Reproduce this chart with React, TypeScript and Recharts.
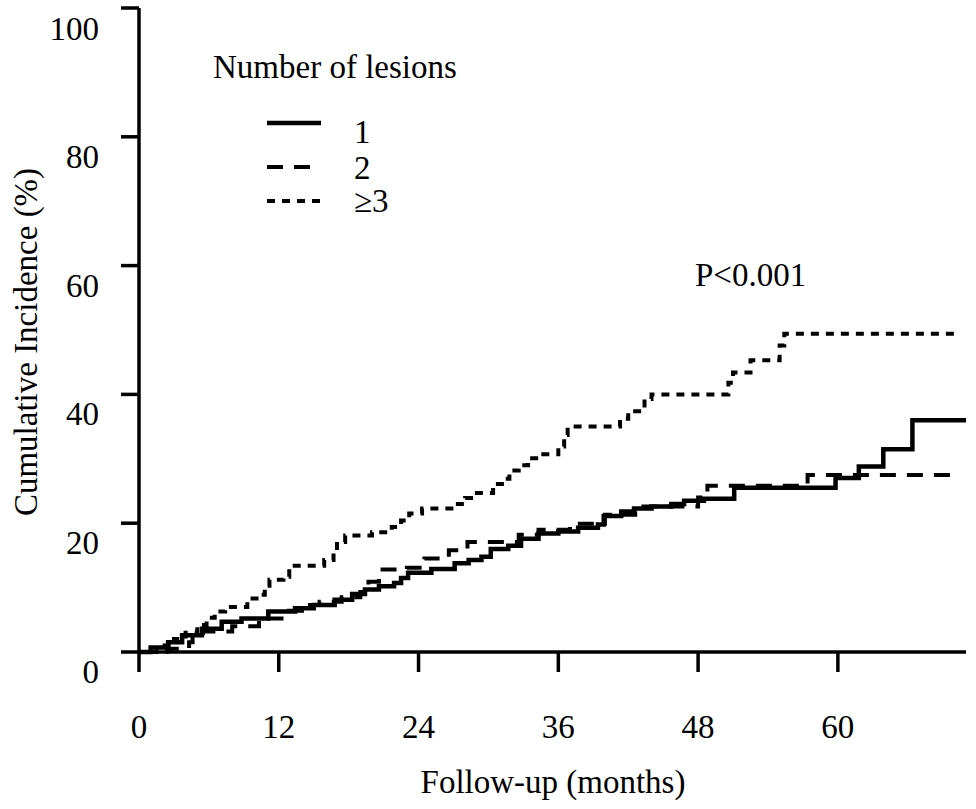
import { Line, LineChart, XAxis, YAxis } from "recharts";

// Cumulative incidence (%) by follow-up month, one step per event
const oneLesionMonths = [0, 1.0, 2.5, 3.7, 5.4, 7.1, 8.8, 11.1, 13.4, 15.0, 16.8, 18.3, 19.4, 20.6, 21.9, 22.5, 23.1, 25.1, 27.1, 28.3, 29.4, 30.2, 31.7, 32.8, 34.3, 36.0, 37.7, 39.4, 39.9, 41.4, 42.5, 44.0, 45.7, 46.8, 48.5, 51.1, 59.8, 61.8, 63.9, 66.4, 71.0];
const oneLesionPct = [0, 0.7, 1.5, 2.6, 3.6, 4.7, 5.2, 6.3, 6.8, 7.3, 8.1, 9.0, 9.7, 10.2, 10.7, 11.5, 12.3, 12.9, 13.8, 14.3, 14.8, 16.0, 16.5, 17.6, 18.4, 18.7, 19.3, 19.8, 21.1, 21.8, 22.3, 22.6, 23.0, 23.5, 23.8, 25.5, 27.0, 28.8, 31.5, 36.0, 36.0];

const twoLesionMonths = [0, 2.4, 4.3, 4.6, 5.5, 8.0, 10.3, 12.5, 14.0, 15.5, 17.4, 19.0, 19.7, 20.6, 23.0, 24.5, 26.6, 28.2, 32.6, 34.3, 37.0, 40.0, 42.6, 48.0, 48.8, 57.4, 70.0];
const twoLesionPct = [0, 0.5, 1.5, 2.5, 3.2, 4.0, 5.2, 6.4, 7.3, 7.8, 8.5, 9.3, 10.9, 12.8, 13.1, 14.5, 15.8, 17.1, 18.2, 19.0, 19.9, 21.3, 22.6, 24.0, 25.8, 27.5, 27.5];

const threePlusMonths = [0, 1.5, 3.0, 4.0, 5.0, 5.8, 6.5, 7.4, 9.3, 10.3, 10.8, 11.2, 12.4, 12.9, 15.9, 16.7, 17.0, 17.7, 20.0, 21.7, 22.5, 23.2, 24.3, 27.2, 28.0, 28.8, 30.4, 31.4, 31.8, 32.6, 33.4, 34.3, 36.0, 36.5, 36.8, 41.3, 42.0, 43.4, 44.0, 50.6, 51.0, 52.5, 55.0, 55.4, 70.2];
const threePlusPct = [0, 1.0, 2.0, 3.0, 4.2, 5.3, 6.3, 7.0, 8.3, 8.9, 10.3, 11.2, 11.7, 13.4, 14.3, 15.5, 17.1, 18.1, 18.6, 19.4, 20.4, 21.5, 22.3, 23.0, 23.9, 24.7, 26.1, 26.9, 28.2, 29.0, 30.1, 30.7, 31.9, 33.7, 35.0, 36.2, 37.4, 39.3, 40.0, 41.8, 43.4, 45.3, 47.6, 49.4, 49.4];

const xTicks = [0, 12, 24, 36, 48, 60];
const yTicks = [0, 20, 40, 60, 80, 100];

const FONT = "'Liberation Serif', 'Times New Roman', serif";
const FS = 33;

const toPoints = (months: number[], pct: number[]) =>
  months.map((m, i) => ({ m, v: pct[i] }));

const series = [
  { key: "1", label: "1", data: toPoints(oneLesionMonths, oneLesionPct), dash: undefined, width: 4.5 },
  { key: "2", label: "2", data: toPoints(twoLesionMonths, twoLesionPct), dash: "16 11", width: 4 },
  { key: "3", label: "\u22653", data: toPoints(threePlusMonths, threePlusPct), dash: "8 7", width: 4 },
];

const XTick = ({ x, y, payload }: any) => (
  <text x={x} y={y + 66} textAnchor="middle" fontFamily={FONT} fontSize={FS} fill="#000">
    {payload.value}
  </text>
);

const YTick = ({ x, y, payload }: any) => (
  <text x={x - 22} y={y + 31} textAnchor="end" fontFamily={FONT} fontSize={FS} fill="#000">
    {payload.value}
  </text>
);

const axisStroke = { stroke: "#000", strokeWidth: 3.5 };

// legend rows: line sample y and label baseline
const legendRows = [
  { lineY: 123, textY: 143 },
  { lineY: 167, textY: 179 },
  { lineY: 201, textY: 212 },
];

export default function App() {
  return (
    <div style={{ position: "absolute", left: 0, top: 0, width: 976, height: 809, background: "#fff" }}>
      <LineChart width={976} height={809} margin={{ top: 8, right: 10, bottom: 0, left: 0 }}>
        <XAxis
          dataKey="m"
          type="number"
          domain={[0, 71]}
          ticks={xTicks}
          allowDataOverflow
          height={157}
          tickSize={20}
          tickMargin={0}
          axisLine={axisStroke}
          tickLine={axisStroke}
          tick={<XTick />}
        />
        <YAxis
          type="number"
          domain={[0, 100]}
          ticks={yTicks}
          width={139}
          tickSize={18}
          tickMargin={0}
          axisLine={axisStroke}
          tickLine={axisStroke}
          tick={<YTick />}
        />
        {series.map((s) => (
          <Line
            key={s.key}
            data={s.data}
            dataKey="v"
            type="stepAfter"
            stroke="#000"
            strokeWidth={s.width}
            strokeDasharray={s.dash}
            dot={false}
            activeDot={false}
            isAnimationActive={false}
          />
        ))}
      </LineChart>
      <svg
        width={976}
        height={809}
        style={{ position: "absolute", left: 0, top: 0, pointerEvents: "none" }}
        fontFamily={FONT}
        fontSize={FS}
      >
        <text x={213} y={78} fill="#000">Number of lesions</text>
        {series.map((s, i) => (
          <g key={s.key}>
            <line
              x1={267}
              x2={321}
              y1={legendRows[i].lineY}
              y2={legendRows[i].lineY}
              stroke="#000"
              strokeWidth={s.width}
              strokeDasharray={s.dash}
            />
            <text x={354} y={legendRows[i].textY} fill="#000">{s.label}</text>
          </g>
        ))}
        <text x={695} y={286} fill="#000">P&lt;0.001</text>
        <text x={553} y={793} textAnchor="middle" fill="#000">Follow-up (months)</text>
        <text transform="translate(37,342) rotate(-90)" textAnchor="middle" fill="#000">
          Cumulative Incidence (%)
        </text>
      </svg>
    </div>
  );
}
